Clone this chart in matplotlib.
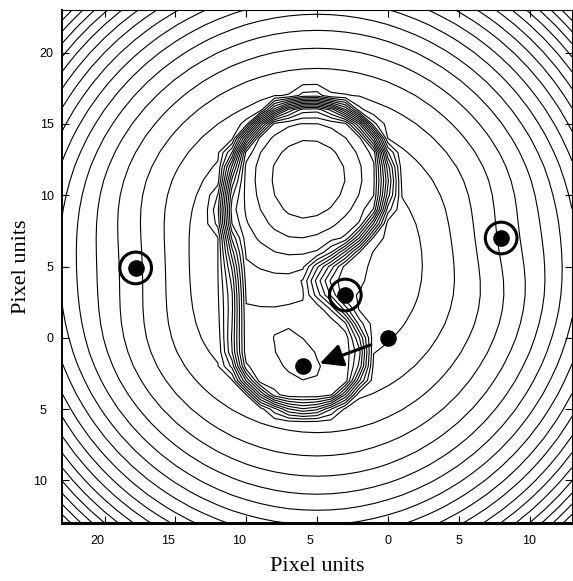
import numpy as np
import matplotlib
matplotlib.use("Agg")
import matplotlib.pyplot as plt
import matplotlib.transforms as mtransforms

# map grid, one pixel unit per node
grid_x = np.arange(-23, 14, 1.0)
grid_y = np.arange(-13, 24, 1.0)

# marked points
landmark_x = [-17.8, 8.0, -3.0]
landmark_y = [4.9, 7.0, 3.0]
point_x = [0.0, -6.0]
point_y = [0.0, -2.0]
arrow_from = (-1.2, -0.5)
arrow_to = (-4.8, -1.8)

# field parameters
bowl_center = (-5.0, 5.3)
bowl_scale = 44.0
bowl_edge = 20.2
landmark_dip = [0.8, 0.5, 0.0]
landmark_width = [3.5, 2.5, 1.0]
ring_center = (-5.6, 11.3)
top_center = (-5.4, 11.1)
top_radius = 5.4
top_peak = 12.65
top_drop = 5.3
top_scale = 7.0
tongue_shear = 0.3
tongue_stretch = 0.88
stem_ends = [(-8.7, 8.0), (-8.0, -0.5)]
stem_radius = 2.1
low_center = (-5.6, -1.3)
low_radii = (3.8, 3.5)
low_peak_center = (-6.4, -1.3)
low_peak = 0.8
low_peak_axes = (1.6, 0.9)
low_peak_angle = -49.0
band_width = 1.3

levels = np.arange(-30.3, 14.0, 1.0)
x_ticks = [-20, -15, -10, -5, 0, 5, 10]
y_ticks = [-10, -5, 0, 5, 10, 15, 20]


def circle_sdf(X, Y, c, r):
    return np.hypot(X - c[0], Y - c[1]) - r


def capsule_sdf(X, Y, a, b, r):
    px, py = X - a[0], Y - a[1]
    vx, vy = b[0] - a[0], b[1] - a[1]
    h = np.clip((px * vx + py * vy) / (vx * vx + vy * vy), 0, 1)
    return np.hypot(px - h * vx, py - h * vy) - r


def smin(a, b, k):
    return -k * np.logaddexp(-a / k, -b / k)


X, Y = np.meshgrid(grid_x, grid_y)

# "9" shaped plateau outline
d_top = circle_sdf(X, Y, top_center, top_radius)
d_stem = capsule_sdf(X, Y, stem_ends[0], stem_ends[1], stem_radius)
rl = np.hypot((X - low_center[0]) / low_radii[0], (Y - low_center[1]) / low_radii[1])
d_low = (rl - 1) * np.mean(low_radii)
d_all = smin(smin(d_top, d_stem, 1.5), d_low, 1.5)
p_all = np.clip(0.5 - d_all / band_width, 0, 1)

# outer bowl, steeper towards the corners, small dips at the landmarks
r = np.hypot(X - bowl_center[0], Y - bowl_center[1])
bowl = -(r ** 2 / bowl_scale + (r / bowl_edge) ** 6)
for lx, ly, a, s in zip(landmark_x, landmark_y, landmark_dip, landmark_width):
    bowl -= a * np.exp(-((X - lx) ** 2 + (Y - ly) ** 2) / (2 * s ** 2))

# inside: upper peak with a tongue bending down the stem, small lower peak
dy = np.minimum(Y - ring_center[1], 0)
dx = X - ring_center[0] + tongue_shear * dy ** 2 / 8
dy = np.where(Y < ring_center[1], dy * tongue_stretch, Y - ring_center[1])
q = dx ** 2 + dy ** 2
inner = top_peak - top_drop * np.tanh(q / (top_scale * top_drop))
ang = np.radians(low_peak_angle)
u = (X - low_peak_center[0]) * np.cos(ang) + (Y - low_peak_center[1]) * np.sin(ang)
v = -(X - low_peak_center[0]) * np.sin(ang) + (Y - low_peak_center[1]) * np.cos(ang)
inner += low_peak * np.exp(-0.5 * ((u / low_peak_axes[0]) ** 2 + (v / low_peak_axes[1]) ** 2))

Z = bowl + p_all * (inner - bowl)

fig = plt.figure(figsize=(5.73, 5.81), dpi=100)
ax = fig.add_axes([62 / 573, 58 / 581, 510 / 573, 513 / 581])
ax.contour(X, Y, Z, levels=levels, colors="black", linewidths=0.8, linestyles="solid")

ax.scatter(landmark_x, landmark_y, s=520, facecolors="none", edgecolors="black",
           linewidths=2.2, zorder=5)
ax.scatter(landmark_x + point_x, landmark_y + point_y, s=120, color="black", zorder=6)
ax.annotate("", xy=arrow_to, xytext=arrow_from,
            arrowprops=dict(arrowstyle="-|>,head_length=1.4,head_width=0.7",
                            color="black", lw=2.2, shrinkA=0, shrinkB=0), zorder=7)

ax.set_xlim(-23, 13)
ax.set_ylim(-13, 23)
ax.set_xticks(x_ticks)
ax.set_yticks(y_ticks)
ax.set_xticklabels([str(abs(v)) for v in x_ticks], family="Liberation Sans", fontsize=9)
ax.set_yticklabels([str(abs(v)) for v in y_ticks], family="Liberation Sans", fontsize=9)
ax.tick_params(direction="in", length=5, width=0.8, top=True, right=True)
ax.tick_params(axis="x", pad=9)
ax.tick_params(axis="y", pad=6)
shift = mtransforms.ScaledTranslation(-7 / 100, 0, fig.dpi_scale_trans)
for v, lab in zip(x_ticks, ax.get_xticklabels()):
    if v < 0:
        lab.set_transform(lab.get_transform() + shift)
for v, lab in zip(y_ticks, ax.get_yticklabels()):
    if v < 0:
        lab.set_transform(lab.get_transform() + shift)

ax.spines["bottom"].set_linewidth(2.2)
ax.spines["left"].set_linewidth(1.4)
ax.spines["top"].set_linewidth(0.8)
ax.spines["right"].set_linewidth(0.8)
ax.set_xlabel("Pixel units", family="Liberation Serif", fontsize=16, labelpad=7)
ax.set_ylabel("Pixel units", family="Liberation Serif", fontsize=16, labelpad=1)

fig.savefig("out.png", dpi=100)
